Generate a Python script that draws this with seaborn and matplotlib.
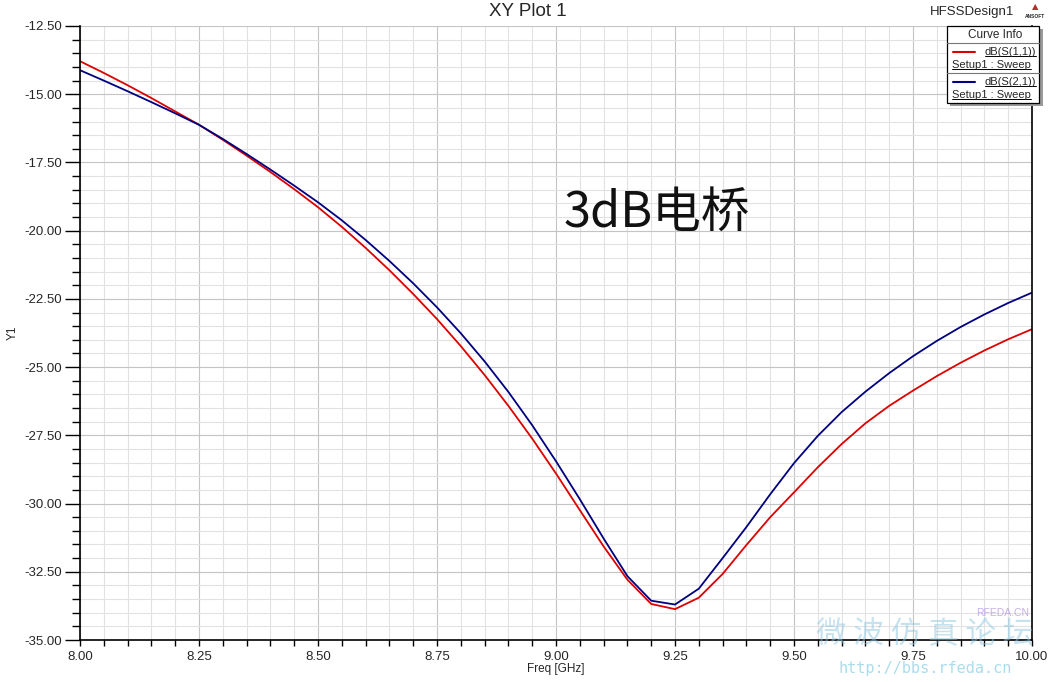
import numpy as np
import pandas as pd
import matplotlib
matplotlib.use('Agg')
import matplotlib.pyplot as plt
import seaborn as sns
from matplotlib.ticker import MultipleLocator, FormatStrFormatter
from matplotlib.patches import Rectangle
from matplotlib.lines import Line2D

# --- data (0.05 GHz sweep steps) ---
freq_ghz = [8.00, 8.05, 8.10, 8.15, 8.20, 8.25, 8.30, 8.35, 8.40, 8.45,
            8.50, 8.55, 8.60, 8.65, 8.70, 8.75, 8.80, 8.85, 8.90, 8.95,
            9.00, 9.05, 9.10, 9.15, 9.20, 9.25, 9.30, 9.35, 9.40, 9.45,
            9.50, 9.55, 9.60, 9.65, 9.70, 9.75, 9.80, 9.85, 9.90, 9.95,
            10.00]
s11_db = [-13.79, -14.22, -14.67, -15.14, -15.63, -16.12, -16.67, -17.25, -17.85, -18.48,
          -19.14, -19.86, -20.63, -21.45, -22.32, -23.24, -24.23, -25.29, -26.42, -27.62,
          -28.90, -30.24, -31.57, -32.79, -33.68, -33.87, -33.45, -32.58, -31.52, -30.50,
          -29.59, -28.67, -27.82, -27.06, -26.42, -25.86, -25.33, -24.84, -24.39, -23.98,
          -23.61]
s21_db = [-14.12, -14.50, -14.89, -15.29, -15.70, -16.12, -16.64, -17.19, -17.76, -18.35,
          -18.96, -19.62, -20.34, -21.11, -21.93, -22.81, -23.76, -24.79, -25.91, -27.13,
          -28.45, -29.84, -31.28, -32.66, -33.56, -33.70, -33.12, -32.00, -30.86, -29.66,
          -28.52, -27.52, -26.65, -25.90, -25.22, -24.60, -24.04, -23.53, -23.07, -22.65,
          -22.27]
curve_names = ['dB(S(1,1))', 'dB(S(2,1))']
curve_colors = ['#dd0000', '#000080']

df = pd.DataFrame({
    'freq': freq_ghz * 2,
    'value': s11_db + s21_db,
    'curve': [curve_names[0]] * len(freq_ghz) + [curve_names[1]] * len(freq_ghz),
})

sns.set_style("white")
plt.rcParams['font.family'] = ['Liberation Sans', 'DejaVu Sans']

W, H = 1057, 682
fig = plt.figure(figsize=(W / 100, H / 100), dpi=100)
ax = fig.add_axes([80 / W, 1 - 640 / H, (1032 - 80) / W, (640 - 26) / H])

sns.lineplot(data=df, x='freq', y='value', hue='curve', palette=curve_colors,
             linewidth=1.3, legend=False, ax=ax)

ax.set_xlim(8.0, 10.0)
ax.set_ylim(-35.0, -12.5)
ax.xaxis.set_major_locator(MultipleLocator(0.25))
ax.xaxis.set_minor_locator(MultipleLocator(0.05))
ax.yaxis.set_major_locator(MultipleLocator(2.5))
ax.yaxis.set_minor_locator(MultipleLocator(0.5))
ax.xaxis.set_major_formatter(FormatStrFormatter('%.2f'))
ax.yaxis.set_major_formatter(FormatStrFormatter('%.2f'))
ax.grid(which='major', color='#c4c4c4', linewidth=0.8)
ax.grid(which='minor', color='#e2e2e2', linewidth=0.8)
ax.set_axisbelow(True)
ax.tick_params(axis='y', which='major', direction='out', length=11, width=1,
               labelsize=9.5, pad=2, color='black', left=True)
ax.tick_params(axis='y', which='minor', direction='out', length=5.5, width=1,
               color='black', left=True)
ax.tick_params(axis='x', which='both', direction='out', length=4.5, width=1,
               labelsize=9.5, pad=3.5, color='black', bottom=True)
for side in ['left', 'bottom', 'right']:
    ax.spines[side].set_color('black')
    ax.spines[side].set_linewidth(1.2)
ax.spines['top'].set_visible(False)

ax.set_xlabel('Freq [GHz]', fontsize=8.5, labelpad=0)
ax.set_ylabel('Y1', fontsize=8.5, labelpad=4)

# annotation in the plot
ax.text(9.015, -19.35, '3dB电桥', fontsize=35, va='center', ha='left',
        family=['Noto Sans CJK SC', 'DejaVu Sans'], color='#111111')

# titles
fig.text(528 / W, 1 - 12 / H, 'XY Plot 1', fontsize=13.5, ha='center', va='center')
fig.text(972 / W, 1 - 12 / H, 'HFSSDesign1', fontsize=9.5, ha='center', va='center')
fig.text(1035 / W, 1 - 7 / H, '▲', fontsize=6, ha='center', va='center', color='#b03030',
         family=['DejaVu Sans'])
fig.text(1035 / W, 1 - 16 / H, 'ANSOFT', fontsize=3.5, ha='center', va='center',
         weight='bold')

# curve info box
def fx(px):
    return px / W

def fy(py):
    return 1 - py / H

fig.patches.append(Rectangle((fx(950), fy(106)), (1043 - 950) / W, (106 - 29) / H,
                             transform=fig.transFigure, facecolor='#9a9a9a',
                             edgecolor='none', zorder=5))
fig.patches.append(Rectangle((fx(947), fy(103)), (1039 - 947) / W, (103 - 26) / H,
                             transform=fig.transFigure, facecolor='white',
                             edgecolor='black', linewidth=0.9, zorder=6))
for py in [43, 73]:
    fig.lines.append(Line2D([fx(947), fx(1039)], [fy(py), fy(py)],
                            transform=fig.transFigure, color='#777777',
                            linewidth=0.8, zorder=7))
fig.text(fx(995), fy(34.5), 'Curve Info', fontsize=8.5, ha='center', va='center', zorder=8)

entries = []
for i, (name, col) in enumerate(zip(curve_names, curve_colors)):
    y1 = 52 + 30 * i
    y2 = 65 + 30 * i
    fig.lines.append(Line2D([fx(953), fx(975)], [fy(y1), fy(y1)],
                            transform=fig.transFigure, color=col,
                            linewidth=1.5, zorder=8))
    t1 = fig.text(fx(1036), fy(y1), name, fontsize=8, ha='right', va='center', zorder=8)
    t2 = fig.text(fx(952), fy(y2), 'Setup1 : Sweep', fontsize=8, ha='left', va='center',
                  zorder=8)
    entries += [t1, t2]

fig.canvas.draw()
inv = fig.transFigure.inverted()
for t in entries:
    bb = t.get_window_extent()
    (x0, y0), (x1, _) = inv.transform([(bb.x0, bb.y0 + 1), (bb.x1, bb.y0 + 1)])
    fig.lines.append(Line2D([x0, x1], [y0, y0], transform=fig.transFigure,
                            color='black', linewidth=0.7, zorder=8))

# forum watermark
fig.text(fx(925), fy(634), '微 波 仿 真 论 坛', fontsize=22, ha='center', va='center',
         family=['Noto Sans CJK SC'], color='#8fc6e0', alpha=0.5, style='italic')
fig.text(fx(925), fy(669), 'http://bbs.rfeda.cn', fontsize=11, ha='center', va='center',
         family=['DejaVu Sans Mono'], color='#8fd0e6', alpha=0.75)
fig.text(fx(1003), fy(613), 'RFEDA.CN', fontsize=7.5, ha='center', va='center',
         color='#b89ce0', alpha=0.8)

fig.savefig('out.png', dpi=100)
